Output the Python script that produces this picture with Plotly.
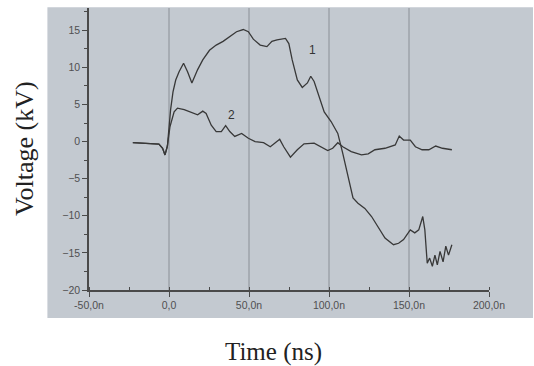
import plotly.graph_objects as go

# ---- data ----
time_1 = [-22.6, -15, -8, -6.3, -4, -2.5, -1, 0, 1, 2.5, 4.2, 6.3, 9.1, 11.6, 14.3, 17.9, 21.1, 25.3, 29.5,
          33.8, 38, 42.2, 46.4, 49.6, 52.7, 57, 61.2, 64.3, 67.5, 72.8, 74.9, 77, 80.2, 83.3, 86.5, 88.6,
          90.7, 93.9, 97, 101.3, 105.5, 108.6, 111.8, 115, 118.1, 122.4, 126.6, 130.8, 135, 140.3, 143.5,
          146.6, 150.8, 153.6, 156.1, 158.6, 159.9, 161.4, 162.9, 164.6, 166.2, 167.7, 169.4, 171.3, 173,
          174.7, 176.8]
volt_1 = [-0.15, -0.25, -0.3, -0.35, -0.9, -1.8, -0.6, 2.0, 4.3, 6.7, 8.3, 9.4, 10.55, 9.4, 7.9, 9.7, 11.0,
          12.3, 13.0, 13.5, 14.2, 14.8, 15.1, 14.8, 13.8, 13.0, 12.8, 13.5, 13.7, 13.9, 13.2, 11.0, 8.3, 7.3,
          7.9, 8.8, 8.1, 6.1, 4.0, 2.7, 1.1, -1.6, -4.7, -7.6, -8.3, -9.0, -10.1, -11.5, -13.0, -13.9, -13.7,
          -13.2, -11.9, -12.3, -11.9, -10.1, -11.9, -16.4, -15.7, -16.8, -15.3, -16.6, -14.8, -16.2, -14.1,
          -15.3, -13.9]

time_2 = [-22.6, -15, -8, -6.3, -4, -2.5, -1, 0.6, 3.2, 5.3, 9.5, 14.8, 17.9, 21.1, 23.2, 26.4, 29.5, 32.7,
          35.4, 38, 41.1, 45.4, 49.6, 53.8, 59.1, 63.3, 66.5, 69.2, 71.7, 75.9, 80.2, 84.4, 90.7, 94.9, 99.2,
          102.3, 105.5, 108.6, 113.9, 120.3, 124.5, 128.7, 135, 141.4, 143.9, 146.6, 150.8, 154, 158.2, 162.4,
          166.7, 170.9, 176.8]
volt_2 = [-0.15, -0.25, -0.3, -0.35, -0.9, -1.8, -0.6, 2.0, 4.0, 4.5, 4.3, 3.8, 3.6, 4.1, 3.8, 2.2, 1.35,
          1.35, 2.15, 1.35, 0.7, 1.1, 0.45, 0.0, -0.15, -0.7, -0.2, 0.3, -0.7, -2.1, -1.1, -0.3, -0.2, -0.7,
          -1.2, -0.9, -0.15, -0.7, -1.35, -1.8, -1.65, -1.1, -0.9, -0.45, 0.75, 0.2, 0.2, -0.7, -1.1, -1.1,
          -0.6, -0.9, -1.1]

x_ticks = [-50, 0, 50, 100, 150, 200]
x_tick_labels = ["-50,0n", "0,0", "50,0n", "100,0n", "150,0n", "200,0n"]
y_ticks = [-20, -15, -10, -5, 0, 5, 10, 15]
grid_x = [0, 50, 100, 150]
curve_labels = [("1", 89.7, 12.4), ("2", 39.2, 3.6)]

LINE = "#383838"
AX = "#4a4a4a"
BG = "#c3c9d0"

fig = go.Figure()
fig.add_trace(go.Scatter(x=time_1, y=volt_1, mode="lines", line=dict(color=LINE, width=1.3),
                         showlegend=False, hoverinfo="skip"))
fig.add_trace(go.Scatter(x=time_2, y=volt_2, mode="lines", line=dict(color=LINE, width=1.3),
                         showlegend=False, hoverinfo="skip"))

shapes = [dict(type="rect", xref="paper", yref="paper", x0=-0.104, x1=1.11, y0=-0.099, y1=1.003,
               fillcolor=BG, line=dict(width=0), layer="below")]
for gx in grid_x:
    shapes.append(dict(type="line", xref="x", yref="paper", x0=gx, x1=gx, y0=0, y1=1,
                       line=dict(color="#8a8f96", width=1), layer="below"))

annotations = [dict(text=t, x=x, y=y, xref="x", yref="y", showarrow=False,
                    font=dict(family="Liberation Sans", size=12, color="#333333"))
               for t, x, y in curve_labels]
annotations.append(dict(text="Voltage (kV)", xref="paper", yref="paper", x=(23 - 89) / 405,
                        y=(290 - 148) / 282.3, textangle=-90, showarrow=False,
                        xanchor="center", yanchor="middle",
                        font=dict(family="Liberation Serif", size=26, color="#222222")))
annotations.append(dict(text="Time (ns)", xref="paper", yref="paper", x=(276 - 89) / 405,
                        y=(290 - 352) / 282.3, showarrow=False,
                        xanchor="center", yanchor="middle",
                        font=dict(family="Liberation Serif", size=25, color="#222222")))

fig.update_layout(
    width=534, height=366,
    margin=dict(l=89, r=45, t=8, b=76),
    paper_bgcolor="white", plot_bgcolor="rgba(0,0,0,0)",
    shapes=shapes, annotations=annotations,
    xaxis=dict(range=[-50, 200], tickvals=x_ticks, ticktext=x_tick_labels, showgrid=False,
               zeroline=False, showline=True, linecolor=AX, linewidth=1.5, ticks="outside",
               ticklen=5, tickwidth=1.3, tickcolor=AX,
               tickfont=dict(family="Liberation Sans", size=10.5, color="#505050"),
               minor=dict(dtick=25, tick0=0, ticks="inside", ticklen=3, tickcolor=AX, showgrid=False)),
    yaxis=dict(range=[-20, 18], tickvals=y_ticks, showgrid=False, zeroline=False, showline=True,
               linecolor=AX, linewidth=1.5, ticks="outside", ticklen=5, tickwidth=1.3, tickcolor=AX,
               tickfont=dict(family="Liberation Sans", size=10.5, color="#505050"),
               minor=dict(dtick=2.5, tick0=0, ticks="outside", ticklen=3, tickcolor=AX, showgrid=False)),
)

fig.write_html("out.html")
